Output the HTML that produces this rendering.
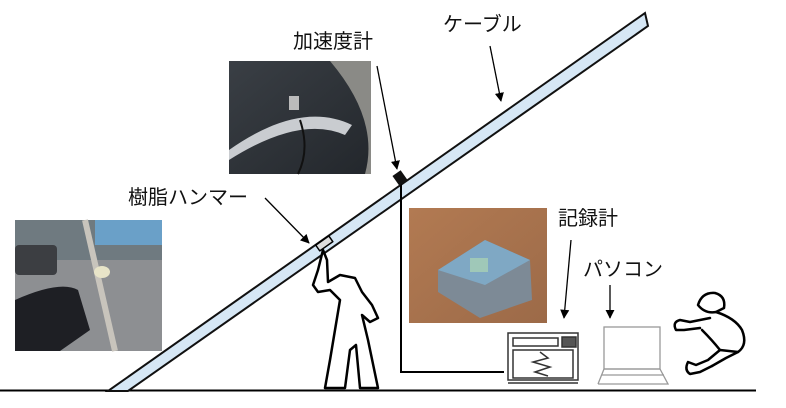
<!DOCTYPE html>
<html><head><meta charset="utf-8"><style>
body{margin:0;background:#fff;}
svg{display:block;}
text{font-family:"Liberation Sans","Noto Sans CJK JP",sans-serif;font-size:20px;fill:#111;}
</style></head><body>
<svg width="786" height="408" viewBox="0 0 786 408" xmlns="http://www.w3.org/2000/svg">
<defs>
<marker id="ah" viewBox="0 0 10 10" refX="9" refY="5" markerWidth="7" markerHeight="7" orient="auto"><path d="M0,0L10,5L0,10z" fill="#000"/></marker>
<linearGradient id="g1" x1="0" y1="0" x2="1" y2="1"><stop offset="0" stop-color="#3a3f45"/><stop offset="1" stop-color="#23272c"/></linearGradient>
<linearGradient id="g3" x1="0" y1="0" x2="1" y2="1"><stop offset="0" stop-color="#b27a52"/><stop offset="1" stop-color="#9c6a48"/></linearGradient>
</defs>
<line x1="0" y1="390.5" x2="756" y2="390.5" stroke="#000" stroke-width="2"/>
<polygon points="108,391 128,391 648,26 645,13" fill="#d6e7f5" stroke="#111" stroke-width="2"/>
<!-- photo1 -->
<rect x="229" y="61" width="142" height="113" fill="#8a8a86"/>
<path d="M229,61 L330,61 Q380,120 365,174 L229,174z" fill="url(#g1)"/>
<path d="M229,150 Q300,100 352,125 L345,135 Q300,115 229,160z" fill="#c9ccd0"/>
<rect x="289" y="96" width="10" height="14" fill="#bbb"/>
<path d="M300,120 Q310,150 298,174" stroke="#111" fill="none" stroke-width="2"/>
<!-- photo2 -->
<rect x="15" y="220" width="147" height="131" fill="#8d8f92"/>
<rect x="15" y="220" width="147" height="40" fill="#6f7a80"/>
<rect x="95" y="220" width="67" height="25" fill="#6aa0c8"/>
<rect x="15" y="245" width="42" height="30" fill="#3c3e42" rx="4"/>
<path d="M15,300 Q60,280 78,290 L90,330 L60,351 L15,351z" fill="#1e1f24"/>
<line x1="85" y1="220" x2="115" y2="351" stroke="#c8c4bc" stroke-width="6"/>
<ellipse cx="102" cy="272" rx="8" ry="6" fill="#e8e4c8"/>
<!-- photo3 -->
<rect x="409" y="208" width="138" height="115" fill="url(#g3)"/>
<path d="M438,270 L485,240 L530,260 L532,300 L480,318 L438,292z" fill="#7d8a96"/>
<path d="M438,270 L485,240 L530,260 L485,285z" fill="#7fa8c4"/>
<rect x="470" y="258" width="18" height="14" fill="#9fc8b8"/>
<!-- wire -->
<polyline points="401,182 401,372 504,372" fill="none" stroke="#000" stroke-width="2"/>
<rect x="395" y="172" width="10" height="12" fill="#111" transform="rotate(-35 400 178)"/>
<text x="293" y="48">加速度計</text>
<text x="443" y="31">ケーブル</text>
<text x="128" y="204">樹脂ハンマー</text>
<text x="558" y="225">記録計</text>
<text x="583" y="276">パソコン</text>
<line x1="377" y1="66" x2="397" y2="169" stroke="#000" stroke-width="1.3" marker-end="url(#ah)"/>
<line x1="490" y1="46" x2="501" y2="101" stroke="#000" stroke-width="1.3" marker-end="url(#ah)"/>
<line x1="265" y1="198" x2="309" y2="243" stroke="#000" stroke-width="1.3" marker-end="url(#ah)"/>
<line x1="571" y1="240" x2="564" y2="318" stroke="#000" stroke-width="1.3" marker-end="url(#ah)"/>
<line x1="610" y1="285" x2="610" y2="318" stroke="#000" stroke-width="1.3" marker-end="url(#ah)"/>
<!-- recorder -->
<g fill="none" stroke="#333" stroke-width="1.5">
<rect x="508" y="333" width="70" height="47"/>
<rect x="513" y="338" width="45" height="8"/>
<rect x="562" y="337" width="14" height="10" fill="#555"/>
<rect x="513" y="350" width="60" height="28"/>
<polyline points="540,352 548,358 533,362 550,367 535,372 548,376"/>
<line x1="508" y1="383" x2="578" y2="383"/>
</g>
<!-- laptop -->
<g fill="none" stroke="#999" stroke-width="1.3">
<rect x="604" y="327" width="56" height="42"/>
<polyline points="598,384 604,369 660,369 668,384 598,384"/>
<line x1="602" y1="375" x2="664" y2="375"/>
</g>
<!-- hammer person -->
<g fill="#fff" stroke="#000" stroke-width="2.5" stroke-linejoin="round">
<rect x="316" y="240" width="16" height="7" transform="rotate(-35 324 243)" fill="#ddd" stroke-width="1.5"/>
<path d="M323,250 L318,270 L313,285 L318,292 L330,290 L340,300 L335,330 L330,360 L325,388 L345,388 L350,350 L356,345 L360,388 L378,388 L368,340 L362,315 L370,322 L378,318 L372,305 L362,292 L355,278 L340,275 L328,282 L327,260z"/>
</g>
<!-- crouching person -->
<g fill="none" stroke="#000" stroke-width="2.5" stroke-linejoin="round" stroke-linecap="round">
<path d="M698,305 Q702,292 715,293 Q726,296 724,308 L716,312 Q705,314 698,305z"/>
<path d="M716,312 Q735,318 742,330 Q748,345 738,352 L720,350"/>
<path d="M710,318 L690,322 L680,320 Q672,322 676,330 L684,330 L700,328"/>
<path d="M702,330 Q712,340 720,350 L708,360 L696,365 L688,362 Q684,370 690,374 L700,372 L712,366"/>
<path d="M738,352 L726,358 L712,366"/>
</g>
</svg>
</body></html>
